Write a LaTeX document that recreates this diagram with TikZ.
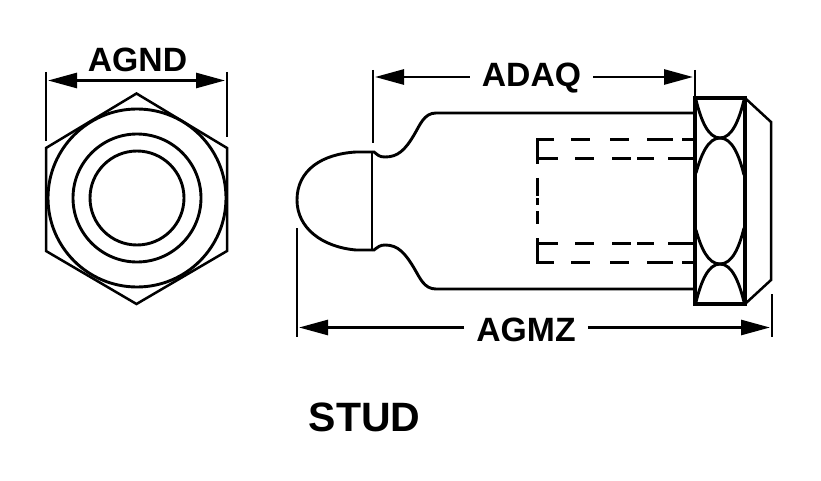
\documentclass[tikz,border=0pt]{standalone}
\usepackage{fontspec}
\setmainfont{Liberation Sans}
\usetikzlibrary{arrows.meta}
\tikzset{
  part/.style={line width=2.9pt,line join=miter,draw=black},
  thinpart/.style={line width=2.5pt,draw=black},
  extline/.style={line width=2.9pt,draw=black},
  dim/.style={line width=2.7pt,draw=black,-{Triangle[length=29pt,width=15pt]}},
  dimtext/.style={font=\bfseries\fontsize{33.7}{36}\selectfont,inner sep=0pt,text=black},
  hid/.style={line width=3pt,draw=black}
}
\begin{document}
\begin{tikzpicture}[x=1pt,y=-1pt]
\useasboundingbox (0,0) rectangle (821,481);
% end view
\coordinate (hexT) at (136.5,93.5);
\draw[thinpart] (hexT) -- (227,148) -- (227,251) -- (136.5,304) -- (46,251) -- (46,148) -- cycle;
\coordinate (cen) at (137,198);
\draw[part] (cen) circle[radius=89];
\draw[part] (cen) circle[radius=64];
\draw[part] (cen) circle[radius=47];
% AGND dimension
\coordinate (a1) at (46,72); \coordinate (a2) at (46,141);
\coordinate (a3) at (227,72); \coordinate (a4) at (227,137);
\draw[extline] (a1) -- (a2);
\draw[extline] (a3) -- (a4);
\coordinate (aL) at (48,80.5); \coordinate (aR) at (225,80.5);
\coordinate (aM) at (137,80.5);
\draw[dim] (aM) -- (aL);
\draw[dim] (aM) -- (aR);
\node[dimtext] (agnd) at (137.5,59.5) {AGND};
% dome and vertical
\coordinate (d1) at (372,152); \coordinate (d2) at (372,250);
\draw[part] (d1) -- (d2);
\draw[part] (d1) -- (356,152) .. controls (322,154) and (297,170) .. (297,200)
  .. controls (297,228) and (322,247) .. (356,250) -- (d2);
% neck and shank
\draw[part] (d1) -- (374,152) .. controls (378,155) and (379,157) .. (385,157)
  .. controls (398,157) and (405,150) .. (414,135)
  .. controls (420,125) and (424,113) .. (436,113) -- (695,113);
\draw[part] (d2) -- (374,250) .. controls (378,247) and (380,245) .. (385,245)
  .. controls (398,245) and (405,253) .. (414,268)
  .. controls (420,278) and (424,289) .. (436,289) -- (695,289);
% nut
\draw[line width=3.2pt] (695,98) rectangle (745,304);
\draw[thinpart,line join=miter] (745,98) -- (771,122) -- (771,280) -- (745,304);
\draw[part] (696,100) .. controls (701,120) and (708,138) .. (720,138)
  .. controls (732,138) and (739,120) .. (744,100);
\draw[part] (696,173) .. controls (701,155) and (708,138) .. (720,138)
  .. controls (732,138) and (739,155) .. (744,175);
\draw[part] (696,230) .. controls (701,248) and (708,264) .. (720,264)
  .. controls (732,264) and (739,248) .. (744,228);
\draw[part] (696,302) .. controls (701,282) and (708,264) .. (720,264)
  .. controls (732,264) and (739,282) .. (744,302);
% hidden bore
\foreach \y in {140,262}{
  \foreach \p/\q in {536/554,571/590,610/629,647/673,682/695}{
    \draw[hid] (\p,\y) -- (\q,\y);}}
\foreach \y in {159,243}{
  \foreach \p/\q in {537/558,575/594,612/631,637/654,668/695}{
    \draw[hid] (\p,\y) -- (\q,\y);}}
\foreach \p/\q in {139/164,178/196,198/205,211/224,238/263}{
  \draw[hid] (537,\p) -- (537,\q);}
% ADAQ dimension
\coordinate (b1) at (373,70); \coordinate (b2) at (373,143);
\coordinate (b3) at (695,70); \coordinate (b4) at (695,97);
\draw[extline] (b1) -- (b2);
\draw[extline] (b3) -- (b4);
\node[dimtext,inner xsep=12pt] (adaq) at (531.5,78) {ADAQ};
\coordinate (bL) at (375,77); \coordinate (bR) at (693,77);
\draw[dim] (adaq.west |- bL) -- (bL);
\draw[dim] (adaq.east |- bR) -- (bR);
% AGMZ dimension
\coordinate (c1) at (297,228); \coordinate (c2) at (297,337);
\coordinate (c3) at (772,294); \coordinate (c4) at (772,337);
\draw[extline] (c1) -- (c2);
\draw[extline] (c3) -- (c4);
\node[dimtext,inner xsep=12pt] (agmz) at (526,330) {AGMZ};
\coordinate (cL) at (299,327.5); \coordinate (cR) at (770,327.5);
\draw[dim] (agmz.west |- cL) -- (cL);
\draw[dim] (agmz.east |- cR) -- (cR);
% title
\node[font=\bfseries\fontsize{41}{44}\selectfont,inner sep=0pt,text=black] (stud) at (364.5,417.5) {STUD};
\end{tikzpicture}
\end{document}
